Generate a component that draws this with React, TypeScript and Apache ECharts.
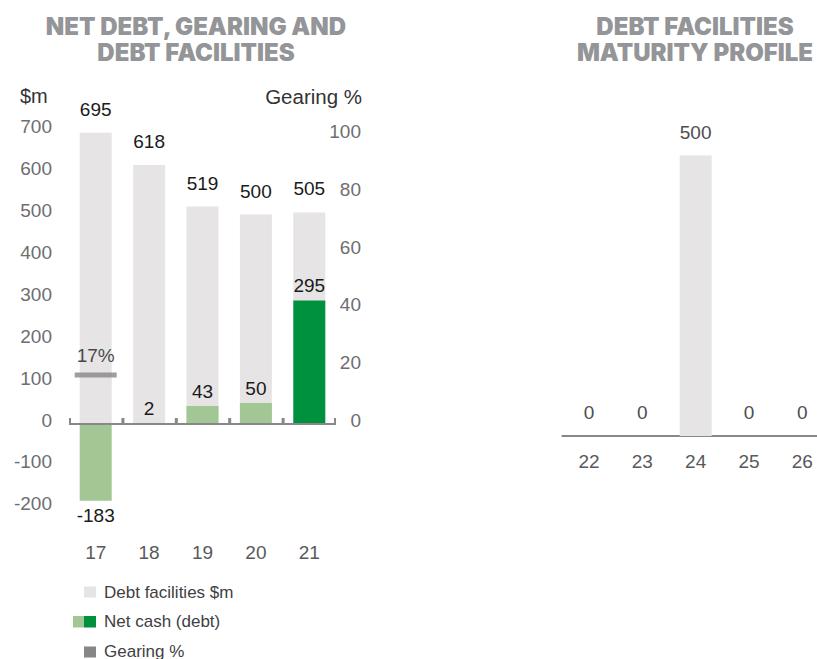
import React, { useEffect, useRef } from "react";
import * as echarts from "echarts";

// ---------- data ----------
const years = ["17", "18", "19", "20", "21"];
const debtFacilities = [695, 618, 519, 500, 505];
const netCash = [-183, 2, 43, 50, 295];
const netCashShade = ["light", "light", "light", "light", "dark"];
const gearing: (number | string)[] = [17, "-", "-", "-", "-"];
const maturityYears = ["22", "23", "24", "25", "26"];
const maturity = [0, 0, 500, 0, 0];
const leftAxisTicks = { min: -200, max: 700, interval: 100 };
const rightAxisTicks = { min: 0, max: 100, interval: 20 };

const titleLeft = ["NET DEBT, GEARING AND", "DEBT FACILITIES"];
const titleRight = ["DEBT FACILITIES", "MATURITY PROFILE"];
const legendLabels = ["Debt facilities $m", "Net cash (debt)", "Gearing %"];

// ---------- style ----------
const C_GREY_BAR = "#e6e4e5";
const C_LIGHT_GREEN = "#a3c695";
const C_DARK_GREEN = "#00913e";
const C_GEARING = "#878586";
const C_AXIS = "#888888";
const C_TITLE = "#939598";
const FONT = "'Liberation Sans', Arial, sans-serif";

const ZERO = 424;
const PX100 = 41.9;

export default function App() {
  const ref = useRef<HTMLDivElement>(null);
  useEffect(() => {
    if (!ref.current) return;
    const chart = echarts.init(ref.current, undefined, { renderer: "svg" });

    const g0Top = ZERO - 7 * PX100;
    const g0Height = 9 * PX100;
    const g1Top = 135.7;
    const g1Height = ZERO - g1Top;
    const g2Top = 155.5;
    const g2Bottom = 436;

    const axisLabelBase = {
      color: "#6d6e71",
      fontSize: 19,
      fontFamily: FONT,
    };
    const liftedLabel = {
      formatter: (v: number) => `{a|${v}}`,
      rich: { a: { padding: [0, 0, 8, 0], fontSize: 19, fontFamily: FONT, color: "#6d6e71" } },
    };

    const lastIdx = years.length - 1;

    const baseGraphic: any[] = [
      ...titleLeft.map((t, i) => ({
        type: "text",
        x: 196,
        y: 26 + i * 26,
        style: {
          text: t,
          fill: C_TITLE,
          font: "900 24px Inter, 'Liberation Sans', sans-serif",
          textAlign: "center",
          textVerticalAlign: "middle",
        },
      })),
      ...titleRight.map((t, i) => ({
        type: "text",
        x: 695,
        y: 26 + i * 26,
        style: {
          text: t,
          fill: C_TITLE,
          font: "900 24px Inter, 'Liberation Sans', sans-serif",
          textAlign: "center",
          textVerticalAlign: "middle",
        },
      })),
      {
        type: "text",
        x: 20,
        y: 96,
        style: { text: "$m", fill: "#333333", font: `20px ${FONT}`, textAlign: "left", textVerticalAlign: "middle" },
      },
      {
        type: "text",
        x: 362,
        y: 96,
        style: { text: "Gearing %", fill: "#333333", font: `20.5px ${FONT}`, textAlign: "right", textVerticalAlign: "middle" },
      },
      // legend
      { type: "rect", shape: { x: 84, y: 586.5, width: 12, height: 11 }, style: { fill: C_GREY_BAR } },
      {
        type: "text",
        x: 104,
        y: 592,
        style: { text: legendLabels[0], fill: "#414042", font: `17px ${FONT}`, textVerticalAlign: "middle" },
      },
      { type: "rect", shape: { x: 73, y: 616, width: 11, height: 11.5 }, style: { fill: C_LIGHT_GREEN } },
      { type: "rect", shape: { x: 84, y: 616, width: 12, height: 11.5 }, style: { fill: C_DARK_GREEN } },
      {
        type: "text",
        x: 104,
        y: 621.5,
        style: { text: legendLabels[1], fill: "#414042", font: `17px ${FONT}`, textVerticalAlign: "middle" },
      },
      { type: "rect", shape: { x: 84, y: 646.5, width: 12, height: 11 }, style: { fill: C_GEARING } },
      {
        type: "text",
        x: 104,
        y: 651,
        style: { text: legendLabels[2], fill: "#414042", font: `17px ${FONT}`, textVerticalAlign: "middle" },
      },
    ];

    const option: any = {
      animation: false,
      backgroundColor: "#ffffff",
      grid: [
        { left: 69, top: g0Top, width: 267, height: g0Height, containLabel: false, outerBoundsMode: "none" },
        { left: 69, top: g1Top, width: 267, height: g1Height, containLabel: false, outerBoundsMode: "none" },
        { left: 562.4, top: g2Top, width: 266.5, height: g2Bottom - g2Top, containLabel: false, outerBoundsMode: "none" },
      ],
      xAxis: [
        {
          type: "category",
          gridIndex: 0,
          data: years,
          axisLine: { show: false, onZero: false },
          axisTick: { show: false },
          axisLabel: { ...axisLabelBase, color: "#58595b", margin: 35 },
          splitLine: { show: false },
        },
        {
          type: "category",
          gridIndex: 1,
          data: years,
          show: false,
        },
        {
          type: "category",
          gridIndex: 2,
          data: maturityYears,
          axisLine: { lineStyle: { color: C_AXIS, width: 2 } },
          axisTick: { inside: true, length: 5, lineStyle: { color: C_AXIS, width: 2 } },
          axisLabel: { ...axisLabelBase, color: "#58595b", margin: 16 },
        },
      ],
      yAxis: [
        {
          type: "value",
          gridIndex: 0,
          min: leftAxisTicks.min,
          max: leftAxisTicks.max,
          interval: leftAxisTicks.interval,
          axisLine: { show: false },
          axisTick: { show: false },
          splitLine: { show: false },
          axisLabel: { ...axisLabelBase, margin: 17, ...liftedLabel },
        },
        {
          type: "value",
          gridIndex: 1,
          position: "right",
          min: rightAxisTicks.min,
          max: rightAxisTicks.max,
          interval: rightAxisTicks.interval,
          axisLine: { show: false },
          axisTick: { show: false },
          splitLine: { show: false },
          axisLabel: { ...axisLabelBase, margin: 25, align: "right", ...liftedLabel },
        },
        {
          type: "value",
          gridIndex: 2,
          min: 0,
          max: 500,
          show: false,
          splitLine: { show: false },
        },
      ],
      series: [
        {
          name: legendLabels[0],
          type: "bar",
          xAxisIndex: 0,
          yAxisIndex: 0,
          data: debtFacilities,
          barWidth: 32,
          barGap: "-100%",
          itemStyle: { color: C_GREY_BAR },
          label: {
            show: true,
            position: "top",
            distance: 14,
            color: "#1a1a1a",
            fontSize: 19,
            fontFamily: FONT,
          },
          z: 2,
        },
        {
          name: legendLabels[1],
          type: "bar",
          xAxisIndex: 0,
          yAxisIndex: 0,
          barWidth: 32,
          barGap: "-100%",
          data: netCash.map((v, i) => ({
            value: v,
            itemStyle: { color: netCashShade[i] === "dark" ? C_DARK_GREEN : C_LIGHT_GREEN },
            label: { position: v < 0 ? "bottom" : "top" },
          })),
          label: {
            show: true,
            distance: 5,
            color: "#1a1a1a",
            fontSize: 19,
            fontFamily: FONT,
          },
          markLine: {
            silent: true,
            symbol: "none",
            label: { show: false },
            lineStyle: { color: C_AXIS, width: 2, type: "solid" },
            data: [{ yAxis: 0 }],
          },
          z: 3,
        },
        {
          type: "custom",
          xAxisIndex: 0,
          yAxisIndex: 0,
          z: 6,
          data: years.map((_, i) => [i, 0]),
          encode: { x: 0, y: 1 },
          renderItem: (_params: any, api: any) => {
            const idx = api.value(0);
            const pt = api.coord([idx, 0]);
            const w = api.size([1, 0])[0];
            const x0 = pt[0] - w / 2;
            const x1 = pt[0] + w / 2;
            const y = pt[1];
            const st = { stroke: C_AXIS, lineWidth: 2 };
            const children: any[] = [
              { type: "line", shape: { x1: x0, y1: y, x2: x1, y2: y }, style: st },
              { type: "line", shape: { x1: x0 + 1, y1: y, x2: x0 + 1, y2: y - 6 }, style: st },
            ];
            if (idx === lastIdx) {
              children.push({ type: "line", shape: { x1: x1 - 1, y1: y, x2: x1 - 1, y2: y - 6 }, style: st });
            }
            return { type: "group", children };
          },
        },
        {
          name: legendLabels[2],
          type: "scatter",
          xAxisIndex: 1,
          yAxisIndex: 1,
          data: gearing,
          symbol: "rect",
          symbolSize: [42, 5],
          itemStyle: { color: C_GEARING },
          label: {
            show: true,
            position: "top",
            distance: 7,
            formatter: "{c}%",
            color: "#1a1a1a",
            fontSize: 19,
            fontFamily: FONT,
          },
          z: 4,
        },
        {
          name: "Maturity",
          type: "bar",
          xAxisIndex: 2,
          yAxisIndex: 2,
          data: maturity,
          barWidth: 32,
          itemStyle: { color: C_GREY_BAR },
          label: {
            show: true,
            position: "top",
            distance: 14,
            color: "#4d4d4f",
            fontSize: 19,
            fontFamily: FONT,
          },
        },
      ],
      graphic: baseGraphic,
    };

    chart.setOption(option);

    // zero baseline of the left chart with ticks at category boundaries, placed through the axes' scales
    const zeroY = Number(chart.convertToPixel({ yAxisIndex: 0 }, 0));
    const c0 = Number(chart.convertToPixel({ xAxisIndex: 0 }, 0));
    const c1 = Number(chart.convertToPixel({ xAxisIndex: 0 }, 1));
    const band = c1 - c0;
    if (isFinite(zeroY) && isFinite(band)) {
      const xs = years.map((_, i) => Number(chart.convertToPixel({ xAxisIndex: 0 }, i)) - band / 2);
      xs.push(xs[lastIdx] + band);
      const st = { stroke: C_AXIS, lineWidth: 2 };
      const axisGraphic: any[] = [
        { type: "line", z: 100, shape: { x1: xs[0], y1: zeroY, x2: xs[xs.length - 1], y2: zeroY }, style: st },
        ...xs.map((x, i) => {
          const xx = i === 0 ? x + 1 : i === xs.length - 1 ? x - 1 : x;
          return { type: "line", z: 100, shape: { x1: xx, y1: zeroY, x2: xx, y2: zeroY - 6 }, style: st };
        }),
      ];
      chart.setOption({ graphic: [...baseGraphic, ...axisGraphic] });
    }

    return () => chart.dispose();
  }, []);

  return (
    <div
      ref={ref}
      style={{ position: "fixed", left: 0, top: 0, width: 817, height: 659, background: "#fff" }}
    />
  );
}
